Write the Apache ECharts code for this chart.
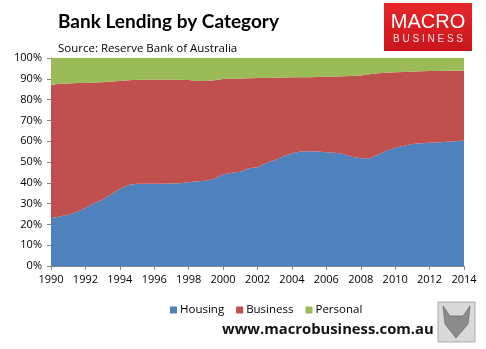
<!DOCTYPE html>
<html><head><meta charset="utf-8">
<script src="https://cdn.jsdelivr.net/npm/echarts@6/dist/echarts.min.js"></script>
<style>html,body{margin:0;padding:0;background:#fff}#c{width:486px;height:349px}</style>
</head><body><div id="c"></div>
<script>
var periods = ['1990','1990.5','1991','1991.5','1992','1992.5','1993','1993.5','1994','1994.5','1995','1995.5','1996','1996.5','1997','1997.5','1998','1998.5','1999','1999.5','2000','2000.5','2001','2001.5','2002','2002.5','2003','2003.5','2004','2004.5','2005','2005.5','2006','2006.5','2007','2007.5','2008','2008.5','2009','2009.5','2010','2010.5','2011','2011.5','2012','2012.5','2013','2013.5','2014'];
var housing = [23.0,23.8,24.6,26.0,28.0,30.2,32.0,34.5,37.0,39.0,39.5,39.5,39.5,39.5,39.7,39.8,40.3,40.7,41.0,42.0,44.0,44.8,45.3,47.0,47.5,49.4,51.0,52.8,54.2,55.0,55.2,55.0,54.7,54.5,53.8,52.5,51.8,51.8,53.5,55.5,56.8,57.8,58.7,59.0,59.2,59.4,59.7,60.0,60.3];
var business = [64.0,63.8,63.2,62.0,60.0,58.0,56.4,54.2,52.0,50.3,50.0,50.1,50.2,50.2,49.9,49.8,49.1,48.3,47.9,47.3,45.9,45.3,44.9,43.3,42.9,41.0,39.5,37.8,36.5,35.7,35.6,35.9,36.3,36.6,37.4,38.8,39.8,40.4,39.2,37.4,36.3,35.5,34.8,34.6,34.5,34.4,34.2,33.9,33.7];
var personal = [13.0,12.4,12.2,12.0,12.0,11.8,11.6,11.3,11.0,10.7,10.5,10.4,10.3,10.3,10.4,10.4,10.6,11.0,11.1,10.7,10.1,9.9,9.8,9.7,9.6,9.6,9.5,9.4,9.3,9.3,9.2,9.1,9.0,8.9,8.8,8.7,8.4,7.8,7.3,7.1,6.9,6.7,6.5,6.4,6.3,6.2,6.1,6.1,6.0];
var seriesNames = ['Housing','Business','Personal'];
var seriesColors = ['#4F81BD','#C0504D','#9BBB59'];
var title = 'Bank Lending by Category';
var subtitle = 'Source: Reserve Bank of Australia';
var footer = 'www.macrobusiness.com.au';

var chart = echarts.init(document.getElementById('c'), null, {renderer:'canvas'});
var values = [housing, business, personal];
var series = seriesNames.map(function(n,i){
  return {name:n, type:'line', stack:'total', symbol:'none', smooth:false,
    lineStyle:{width:0}, areaStyle:{color:seriesColors[i], opacity:1},
    itemStyle:{color:seriesColors[i]}, data:values[i], z:2};
});
chart.setOption({
  animation:false,
  textStyle:{fontFamily:'Open Sans'},
  grid:{left:51,right:22,top:58,bottom:83},
  title:[
    {text:title,left:53,top:7,textStyle:{fontFamily:'Lato',fontWeight:'bold',fontSize:19,color:'#000'}},
    {text:subtitle,left:53,top:38,textStyle:{fontFamily:'Open Sans',fontWeight:'normal',fontSize:11.5,color:'#000'}}
  ],
  legend:{data:seriesNames,left:165,top:299,itemWidth:7,itemHeight:7,itemGap:12,icon:'rect',
    textStyle:{fontFamily:'Open Sans',fontSize:11.5,color:'#000',padding:[0,0,0,-2]}},
  xAxis:{type:'category',data:periods,boundaryGap:false,
    axisLine:{lineStyle:{color:'#868686'}},
    axisTick:{length:4,interval:3,lineStyle:{color:'#868686'}},
    splitLine:{show:false},
    axisLabel:{interval:3,color:'#000',fontSize:11,fontFamily:'Open Sans',margin:8}},
  yAxis:{type:'value',min:0,max:100,interval:10,
    axisLine:{show:true,lineStyle:{color:'#868686'}},axisTick:{show:true,length:4,lineStyle:{color:'#868686'}},
    splitLine:{show:false},
    axisLabel:{color:'#000',fontSize:11,fontFamily:'Open Sans',margin:9,formatter:'{value}%'}},
  series:series,
  graphic:[
    {type:'rect',shape:{x:384,y:3,width:88,height:48},style:{fill:new echarts.graphic.LinearGradient(0,0,0,1,[{offset:0,color:'#e8262a'},{offset:1,color:'#c8161c'}])},z:10},
    {type:'text',x:428,y:22,style:{text:'MACRO',fill:'#fff',font:'normal 20px "Liberation Sans"',textAlign:'center',textVerticalAlign:'middle'},z:11},
    {type:'text',x:428,y:39,style:{text:'B U S I N E S S',fill:'#fde0e0',font:'normal 10px "Liberation Sans"',textAlign:'center',textVerticalAlign:'middle'},z:11},
    {type:'text',x:222,y:330,style:{text:footer,fill:'#111',font:'bold 14.8px "Open Sans"',textVerticalAlign:'middle'},z:11},
    {type:'rect',shape:{x:438,y:302,width:37,height:40},style:{fill:'#d9d9d9',stroke:'#aaa',lineWidth:1},z:10},
    {type:'polygon',shape:{points:[[443,306],[450,316],[463,316],[470,306],[468,324],[456,338],[445,324]]},style:{fill:'#8c8c8c',stroke:'#555',lineWidth:0.6},z:11}
  ]
});
</script></body></html>
